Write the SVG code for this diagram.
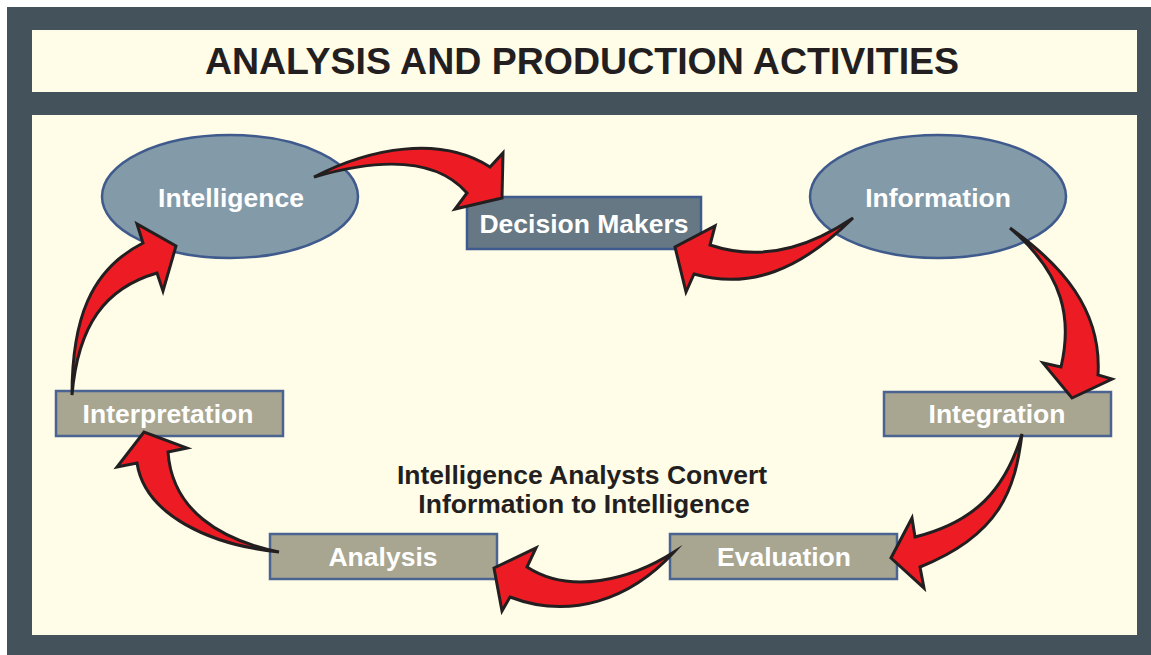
<svg xmlns="http://www.w3.org/2000/svg" width="1151" height="655" viewBox="0 0 1151 655">
<style>
.frame{fill:#44525c}
.panel{fill:#fffce8}
.oval{fill:#839aa8;stroke:#3f5a8c;stroke-width:2.5}
.dm{fill:#667884;stroke:#3f5a8c;stroke-width:2.5}
.box{fill:#a8a690;stroke:#4a6391;stroke-width:2.5}
.lbl{font-family:"Liberation Sans",Arial,sans-serif;font-weight:bold;font-size:26.5px;fill:#ffffff;text-anchor:middle}
.title{font-family:"Liberation Sans",Arial,sans-serif;font-weight:bold;font-size:37.5px;fill:#231f20;text-anchor:middle}
.cap{font-family:"Liberation Sans",Arial,sans-serif;font-weight:bold;font-size:26.5px;fill:#231f20;text-anchor:middle}
.arrow{fill:#ed1c24;stroke:#231f20;stroke-width:3;stroke-linejoin:miter;stroke-miterlimit:10}
</style>
<rect class="frame" x="7" y="7" width="1144" height="648"/>
<rect class="panel" x="32" y="30" width="1105" height="62"/>
<rect class="panel" x="32" y="115" width="1105" height="520"/>
<g id="title"><text class="title" x="582" y="74">ANALYSIS AND PRODUCTION ACTIVITIES</text></g>
<g id="intelligence"><ellipse class="oval" cx="230" cy="196.5" rx="128" ry="61.5"/><text class="lbl" x="231" y="207">Intelligence</text></g>
<g id="information"><ellipse class="oval" cx="938" cy="196.5" rx="128" ry="61.5"/><text class="lbl" x="938" y="207">Information</text></g>
<g id="decision-makers"><rect class="dm" x="467" y="197" width="234" height="52"/><text class="lbl" x="584" y="233">Decision Makers</text></g>
<g id="integration"><rect class="box" x="884" y="392" width="227" height="44"/><text class="lbl" x="997" y="423">Integration</text></g>
<g id="interpretation"><rect class="box" x="56" y="391" width="227" height="45"/><text class="lbl" x="168" y="423">Interpretation</text></g>
<g id="analysis"><rect class="box" x="270" y="534" width="227" height="45"/><text class="lbl" x="383" y="566">Analysis</text></g>
<g id="evaluation"><rect class="box" x="670" y="534" width="227" height="45"/><text class="lbl" x="784" y="566">Evaluation</text></g>
<g id="caption"><text class="cap" x="582" y="484">Intelligence Analysts Convert</text><text class="cap" x="584" y="513">Information to Intelligence</text></g>
<g id="connectors">
<path class="arrow" d="M314,177 C370,148 440,135 490,167 L503,153 L502,198 L455,209 L467,193 C440,162 390,155 314,177 Z"/>
<path class="arrow" d="M853,218 C820,240 770,265 710,245 L715,226 L675,247 L686,292 L694,274 C750,290 800,270 853,218 Z"/>
<path class="arrow" d="M1010,228 C1062,265 1102,310 1098,375 L1112,379 L1072,398 L1043,363 L1061,367 C1072,320 1065,275 1010,228 Z"/>
<path class="arrow" d="M1022,434 C1015,490 1000,535 920,567 L924,588 L891,558 L912,518 L915,537 C975,522 1005,490 1022,434 Z"/>
<path class="arrow" d="M674,552 C630,580 570,595 527,567 L536,548 L494,568 L502,611 L510,597 C570,620 630,600 674,552 Z"/>
<path class="arrow" d="M279,552 C220,540 172,510 168,452 L187,448 L144,432 L117,467 L137,463 C145,515 210,545 279,552 Z"/>
<path class="arrow" d="M72,395 C72,320 90,270 143,243 L137,224 L176,246 L163,291 L157,273 C105,288 78,325 72,395 Z"/>
</g>
</svg>
